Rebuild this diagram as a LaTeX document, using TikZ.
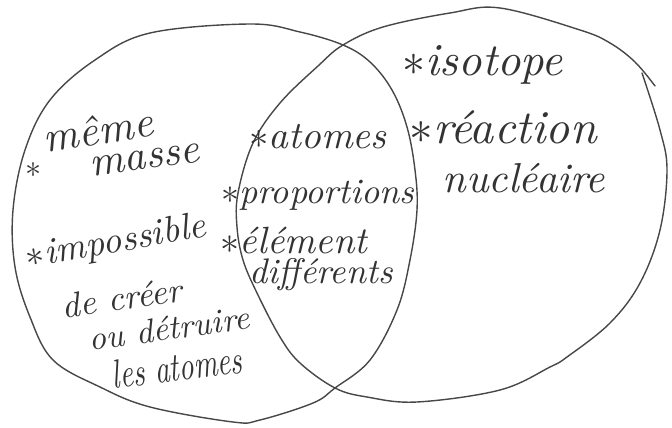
\documentclass[tikz,border=0pt]{standalone}
\usepackage{graphicx}
\newcommand{\fitw}[2]{\resizebox{#1pt}{!}{#2}}
\newcommand{\fitwh}[3]{\resizebox{#1pt}{#2pt}{#3}}
\newcommand{\st}{$\ast$}
\tikzset{
  pencil/.style={draw=black!72, line width=1.4pt, line cap=round, line join=round},
  hw/.style={text=black!80, inner sep=0pt, font=\itshape},
}
\begin{document}
\begin{tikzpicture}[x=1pt,y=-1pt]
\useasboundingbox (0,0) rectangle (672,428);
% left set
\draw[pencil] plot[smooth cycle, tension=0.6] coordinates {
 (13,210) (25,150) (50,100) (95,60) (150,33) (250,24) (300,32) (343,45)
 (370,62) (392,90) (407,127) (415,170) (417,210) (410,260) (397,310)
 (370,360) (335,388) (313,403) (260,420) (233,422) (150,407) (100,387)
 (53,360) (30,317) (15,267)};
% right set
\draw[pencil] plot[smooth, tension=0.6] coordinates {
 (642,73) (660,130) (667,170) (660,230) (640,283) (610,323) (567,357)
 (550,367) (500,390) (417,402) (367,397) (335,388) (300,363) (280,337)
 (257,293) (243,260) (237,227) (238,193) (253,143) (280,103) (318,66)
 (343,45) (383,27) (450,13) (500,8) (580,30) (610,43) (635,62) (655,86)};
% left only
\node[hw] (star1) at (33,170) {\fitw{16}{\st}};
\node[hw, rotate=9] (meme) at (98,130) {\fitw{110}{même}};
\node[hw, rotate=8] (masse) at (145,160) {\fitw{110}{masse}};
\node[hw, rotate=10] (imposs) at (116,243) {\fitw{182}{\st impossible}};
\node[hw, rotate=8] (creer) at (122,298) {\fitw{121}{de créer}};
\node[hw, rotate=8] (detruire) at (169,328) {\fitw{162}{ou détruire}};
\node[hw, rotate=7] (lesatomes) at (177,367) {\fitwh{131}{28}{les atomes}};
% intersection
\node[hw] (atomes) at (318,137) {\fitw{137}{\st atomes}};
\node[hw] (prop) at (318,195) {\fitw{193}{\st proportions}};
\node[hw] (elem) at (294,240) {\fitw{146}{\st élément}};
\node[hw] (diff) at (321,275) {\fitw{143}{différents}};
% right only
\node[hw] (iso) at (483,65) {\fitw{160}{\st isotope}};
\node[hw] (reac) at (503,127) {\fitw{187}{\st réaction}};
\node[hw] (nucl) at (524,178) {\fitw{162}{nucléaire}};
\end{tikzpicture}
\end{document}
